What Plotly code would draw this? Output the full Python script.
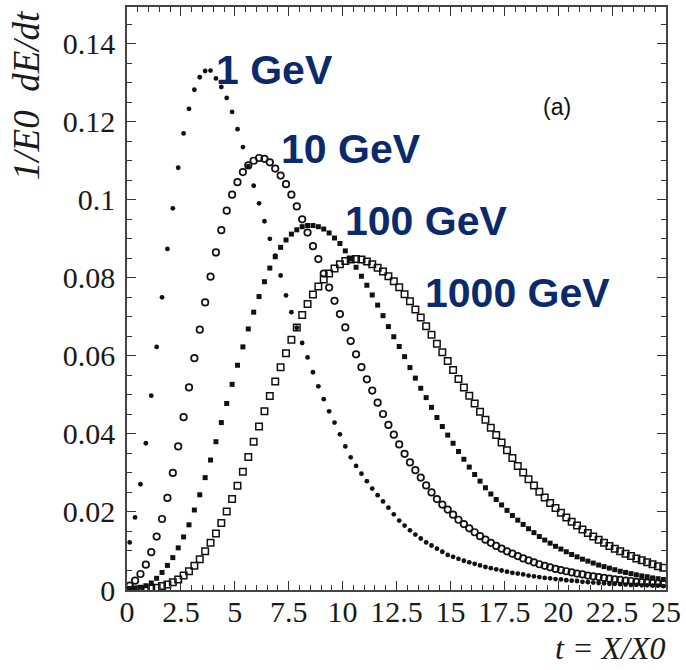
import plotly.graph_objects as go

# depth bin centres, t = X/X0
t = [0.125 + 0.25 * i for i in range(100)]

e1 = [0.0122, 0.0186, 0.0271, 0.0376, 0.0498, 0.0623, 0.0750, 0.0874, 0.0978, 0.1082,
      0.1170, 0.1233, 0.1282, 0.1314, 0.1330, 0.1331, 0.1311, 0.1289, 0.1261, 0.1225,
      0.1181, 0.1135, 0.1086, 0.1036, 0.0991, 0.0945, 0.0900, 0.0857, 0.0806, 0.0755,
      0.0712, 0.0672, 0.0633, 0.0596, 0.0558, 0.0522, 0.0489, 0.0458, 0.0429, 0.0399,
      0.0368, 0.0340, 0.0318, 0.0298, 0.0279, 0.0260, 0.0243, 0.0227, 0.0211, 0.0194,
      0.0178, 0.0165, 0.0153, 0.0142, 0.0132, 0.0122, 0.0114, 0.0106, 0.0098, 0.0090,
      0.0085, 0.0080, 0.0075, 0.0071, 0.0067, 0.0063, 0.0059, 0.0056, 0.0053, 0.0050,
      0.0047, 0.0044, 0.0042, 0.0040, 0.0037, 0.0035, 0.0033, 0.0031, 0.0030, 0.0028,
      0.0027, 0.0025, 0.0024, 0.0023, 0.0021, 0.0020, 0.0019, 0.0018, 0.0017, 0.0016,
      0.0016, 0.0015, 0.0014, 0.0013, 0.0013, 0.0012, 0.0012, 0.0011, 0.0011, 0.0010]

e10 = [0.0011, 0.0024, 0.0041, 0.0065, 0.0097, 0.0137, 0.0182, 0.0236, 0.0300, 0.0368,
       0.0443, 0.0519, 0.0594, 0.0667, 0.0737, 0.0803, 0.0865, 0.0922, 0.0972, 0.1013,
       0.1045, 0.1071, 0.1088, 0.1100, 0.1107, 0.1105, 0.1096, 0.1080, 0.1062, 0.1040,
       0.1013, 0.0983, 0.0950, 0.0916, 0.0881, 0.0848, 0.0811, 0.0775, 0.0741, 0.0707,
       0.0673, 0.0638, 0.0604, 0.0571, 0.0540, 0.0511, 0.0480, 0.0451, 0.0423, 0.0398,
       0.0373, 0.0349, 0.0327, 0.0307, 0.0288, 0.0268, 0.0250, 0.0233, 0.0219, 0.0206,
       0.0193, 0.0180, 0.0169, 0.0158, 0.0148, 0.0138, 0.0129, 0.0121, 0.0113, 0.0106,
       0.0099, 0.0093, 0.0087, 0.0081, 0.0076, 0.0071, 0.0066, 0.0062, 0.0058, 0.0054,
       0.0051, 0.0048, 0.0045, 0.0042, 0.0040, 0.0037, 0.0035, 0.0033, 0.0031, 0.0029,
       0.0027, 0.0026, 0.0024, 0.0023, 0.0021, 0.0020, 0.0019, 0.0018, 0.0017, 0.0016]

e100 = [0.0001, 0.0003, 0.0007, 0.0011, 0.0018, 0.0030, 0.0045, 0.0063, 0.0083, 0.0108,
        0.0136, 0.0167, 0.0205, 0.0244, 0.0288, 0.0333, 0.0380, 0.0429, 0.0478, 0.0527,
        0.0576, 0.0623, 0.0669, 0.0712, 0.0752, 0.0790, 0.0825, 0.0854, 0.0878, 0.0897,
        0.0912, 0.0923, 0.0931, 0.0934, 0.0934, 0.0931, 0.0925, 0.0915, 0.0902, 0.0888,
        0.0869, 0.0848, 0.0827, 0.0804, 0.0781, 0.0756, 0.0730, 0.0703, 0.0675, 0.0649,
        0.0624, 0.0598, 0.0570, 0.0543, 0.0517, 0.0493, 0.0468, 0.0442, 0.0419, 0.0397,
        0.0376, 0.0355, 0.0335, 0.0315, 0.0296, 0.0279, 0.0262, 0.0246, 0.0232, 0.0218,
        0.0204, 0.0191, 0.0179, 0.0168, 0.0157, 0.0147, 0.0137, 0.0128, 0.0120, 0.0112,
        0.0105, 0.0098, 0.0091, 0.0085, 0.0079, 0.0074, 0.0069, 0.0064, 0.0060, 0.0056,
        0.0052, 0.0048, 0.0045, 0.0042, 0.0039, 0.0036, 0.0034, 0.0031, 0.0029, 0.0027]

e1000 = [0.0000, 0.0001, 0.0001, 0.0002, 0.0004, 0.0006, 0.0010, 0.0014, 0.0020, 0.0027,
         0.0037, 0.0048, 0.0062, 0.0079, 0.0099, 0.0121, 0.0145, 0.0172, 0.0201, 0.0233,
         0.0267, 0.0303, 0.0341, 0.0380, 0.0419, 0.0458, 0.0497, 0.0534, 0.0571, 0.0607,
         0.0641, 0.0673, 0.0705, 0.0733, 0.0757, 0.0778, 0.0796, 0.0811, 0.0824, 0.0835,
         0.0843, 0.0847, 0.0848, 0.0847, 0.0842, 0.0835, 0.0826, 0.0816, 0.0804, 0.0791,
         0.0776, 0.0758, 0.0740, 0.0719, 0.0698, 0.0676, 0.0654, 0.0631, 0.0609, 0.0587,
         0.0564, 0.0541, 0.0519, 0.0498, 0.0478, 0.0457, 0.0436, 0.0416, 0.0397, 0.0378,
         0.0358, 0.0338, 0.0318, 0.0301, 0.0284, 0.0268, 0.0252, 0.0237, 0.0223, 0.0210,
         0.0198, 0.0186, 0.0175, 0.0165, 0.0155, 0.0146, 0.0137, 0.0129, 0.0121, 0.0113,
         0.0106, 0.0099, 0.0093, 0.0087, 0.0081, 0.0076, 0.0071, 0.0066, 0.0061, 0.0057]

series_names = ["1 GeV", "10 GeV", "100 GeV", "1000 GeV"]
x_tickvals = [0, 2.5, 5, 7.5, 10, 12.5, 15, 17.5, 20, 22.5, 25]
x_ticktext = ["0", "2.5", "5", "7.5", "10", "12.5", "15", "17.5", "20", "22.5", "25"]
y_tickvals = [0, 0.02, 0.04, 0.06, 0.08, 0.1, 0.12, 0.14]
y_ticktext = ["0", "0.02", "0.04", "0.06", "0.08", "0.1", "0.12", "0.14"]

INK = "#111111"
NAVY = "#0b2a6c"

fig = go.Figure()
fig.add_trace(go.Scatter(x=t, y=e1, mode="markers", name=series_names[0],
                         marker=dict(symbol="circle", size=4.8, color=INK, line=dict(width=0))))
fig.add_trace(go.Scatter(x=t, y=e10, mode="markers", name=series_names[1],
                         marker=dict(symbol="circle-open", size=6.5, color=INK, line=dict(width=1.7, color=INK))))
fig.add_trace(go.Scatter(x=t, y=e100, mode="markers", name=series_names[2],
                         marker=dict(symbol="square", size=5, color=INK, line=dict(width=0))))
fig.add_trace(go.Scatter(x=t, y=e1000, mode="markers", name=series_names[3],
                         marker=dict(symbol="square-open", size=6.5, color=INK, line=dict(width=1.5, color=INK))))

W, H = 686, 670
L, R, T, B = 127, 19, 5, 80
pw, ph = W - L - R, H - T - B

def px(X):
    return (X - L) / pw

def py(Y):
    return (H - B - Y) / ph

tickfont = dict(family="Liberation Serif, Times New Roman, serif", size=30, color="#1a1a1a")

fig.update_xaxes(range=[0, 25], tickmode="array", tickvals=x_tickvals, ticktext=x_ticktext,
                 ticks="inside", ticklen=9, tickwidth=1.2, tickcolor="#333",
                 minor=dict(dtick=0.5, ticks="inside", ticklen=5, tickwidth=1, tickcolor="#333"),
                 showline=True, linecolor="#444", linewidth=1.5, mirror="ticks",
                 showgrid=False, zeroline=False, tickfont=tickfont, ticklabelstandoff=-6)
fig.update_yaxes(range=[0, 0.1494], tickmode="array", tickvals=y_tickvals, ticktext=y_ticktext,
                 ticks="inside", ticklen=9, tickwidth=1.2, tickcolor="#333",
                 minor=dict(dtick=0.005, ticks="inside", ticklen=5, tickwidth=1, tickcolor="#333"),
                 showline=True, linecolor="#444", linewidth=1.5, mirror="ticks",
                 showgrid=False, zeroline=False, tickfont=tickfont, ticklabelstandoff=4)

labfont = dict(family="Liberation Sans, Arial, sans-serif", size=41, color=NAVY)
label_pos = [(275, 68), (351, 147), (427, 220), (518, 292)]
anns = []
for name, (X, Y) in zip(series_names, label_pos):
    anns.append(dict(x=px(X), y=py(Y), xref="paper", yref="paper", text="<b>" + name + "</b>",
                     showarrow=False, font=labfont, xanchor="center", yanchor="middle"))
anns.append(dict(x=px(558), y=py(105), xref="paper", yref="paper", text="(a)", showarrow=False,
                 font=dict(family="Liberation Sans, Arial, sans-serif", size=23, color="#111"),
                 xanchor="center", yanchor="middle"))
titlefont = dict(family="Liberation Serif, Times New Roman, serif", size=37, color="#1a1a1a")
anns.append(dict(x=px(27), y=py(6), xref="paper", yref="paper", text="<i>1/E0  dE/dt</i>",
                 textangle=-90, showarrow=False, font=titlefont, xanchor="center", yanchor="top"))
anns.append(dict(x=px(668), y=py(648), xref="paper", yref="paper", text="<i>t = X/X0</i>",
                 showarrow=False, font=dict(family="Liberation Serif, Times New Roman, serif", size=32, color="#1a1a1a"),
                 xanchor="right", yanchor="middle"))

fig.update_layout(width=W, height=H, margin=dict(l=L, r=R, t=T, b=B),
                  paper_bgcolor="white", plot_bgcolor="white", showlegend=False,
                  annotations=anns)

fig.write_html("out.html", config={"displayModeBar": False},
               post_script="document.body.style.margin='0';document.body.style.overflow='hidden';")
